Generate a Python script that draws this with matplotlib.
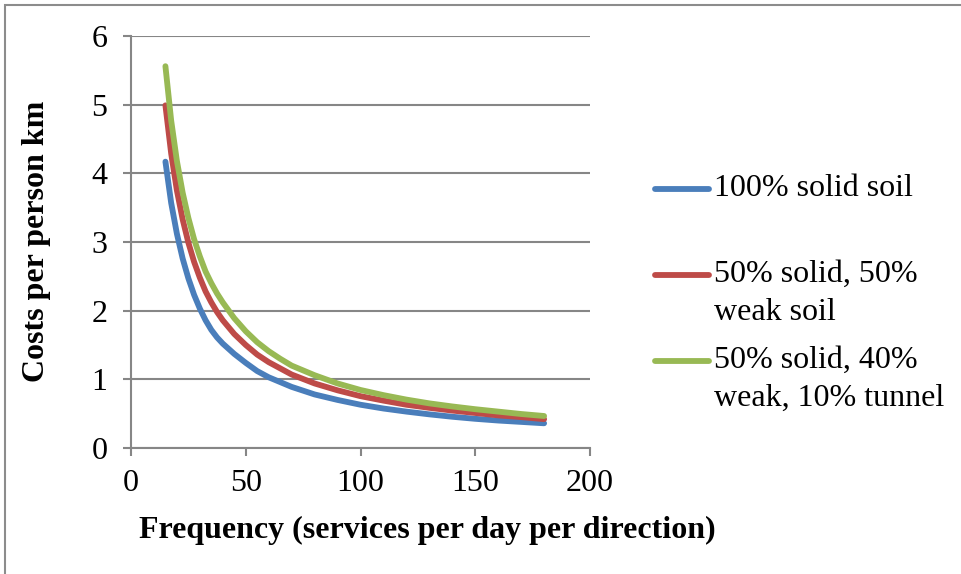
import matplotlib
matplotlib.use("Agg")
import matplotlib.pyplot as plt
from matplotlib.lines import Line2D
from matplotlib.patches import Rectangle

# ---- data ----
frequency = [15, 17.5, 20, 22.5, 25, 27.5, 30, 32.5, 35, 37.5, 40, 45, 50, 55, 60, 65, 70,
             80, 90, 100, 110, 120, 130, 140, 150, 160, 170, 180]
solid_soil = [4.17, 3.57, 3.12, 2.76, 2.47, 2.23, 2.03, 1.86, 1.72, 1.61, 1.52, 1.37, 1.24,
              1.12, 1.03, 0.96, 0.89, 0.78, 0.70, 0.63, 0.575, 0.53, 0.49, 0.455, 0.425,
              0.40, 0.38, 0.36]
solid_weak = [4.99, 4.29, 3.75, 3.33, 2.99, 2.71, 2.48, 2.28, 2.12, 1.98, 1.86, 1.66, 1.50,
              1.36, 1.25, 1.16, 1.07, 0.94, 0.84, 0.755, 0.69, 0.63, 0.585, 0.545, 0.51,
              0.475, 0.45, 0.42]
solid_weak_tunnel = [5.56, 4.77, 4.18, 3.72, 3.35, 3.04, 2.79, 2.57, 2.40, 2.25, 2.12, 1.89,
                     1.70, 1.54, 1.41, 1.30, 1.20, 1.06, 0.94, 0.845, 0.77, 0.705, 0.65,
                     0.605, 0.565, 0.53, 0.495, 0.466]
series_labels = ["100% solid soil", "50% solid, 50%\nweak soil", "50% solid, 40%\nweak, 10% tunnel"]
x_ticks = [0, 50, 100, 150, 200]
y_ticks = [0, 1, 2, 3, 4, 5, 6]
x_title = "Frequency (services per day per direction)"
y_title = "Costs per person km"

colors = ["#4A7EBB", "#BE4B48", "#98B954"]
FS = 23
W, H = 961, 574
plt.rcParams["font.family"] = ["Liberation Serif", "DejaVu Serif"]
fig = plt.figure(figsize=(W / 100, H / 100), dpi=100)

# figure border (gray, cut at bottom/right like the reference)
fig.add_artist(Rectangle((5 / W, -0.05), (W - 1) / W, 1 - 5 / H + 0.05,
                         transform=fig.transFigure, fill=False,
                         edgecolor="#8c8c8c", linewidth=1.5))

left, right, top, bottom = 131, 590, 36, 448
ax = fig.add_axes([left / W, 1 - bottom / H, (right - left) / W, (bottom - top) / H])

for vals, c in zip([solid_soil, solid_weak, solid_weak_tunnel], colors):
    ax.plot(frequency, vals, color=c, linewidth=4.2, solid_capstyle="round",
            solid_joinstyle="round")

ax.set_xlim(0, 200)
ax.set_ylim(0, 6)
ax.set_xticks(x_ticks)
ax.set_yticks(y_ticks)
ax.grid(axis="y", color="#868686", linewidth=1.5)
ax.set_axisbelow(True)
for s in ["top", "right"]:
    ax.spines[s].set_visible(False)
for s in ["left", "bottom"]:
    ax.spines[s].set_color("#868686")
    ax.spines[s].set_linewidth(1.5)
ax.tick_params(axis="both", colors="#868686", width=1.5, length=6, labelsize=FS,
               labelcolor="black")
ax.tick_params(axis="y", pad=11)
ax.tick_params(axis="x", pad=9)

fig.text(37 / W, 1 - 241 / H, y_title, rotation=90, ha="center", va="center",
         fontsize=FS, fontweight="bold")
fig.text(427 / W, 1 - 530 / H, x_title, ha="center", va="center",
         fontsize=FS, fontweight="bold")

# legend (manual, matching Excel layout)
legend_y = [189, 275, 361]
for lab, c, yy in zip(series_labels, colors, legend_y):
    fig.add_artist(Line2D([655 / W, 709 / W], [1 - yy / H, 1 - yy / H],
                          transform=fig.transFigure, color=c, linewidth=4.2,
                          solid_capstyle="round"))
    fig.text(714 / W, 1 - (yy - 15) / H, lab, ha="left", va="top",
             fontsize=FS, linespacing=1.42)

fig.savefig("out.png", dpi=100)
